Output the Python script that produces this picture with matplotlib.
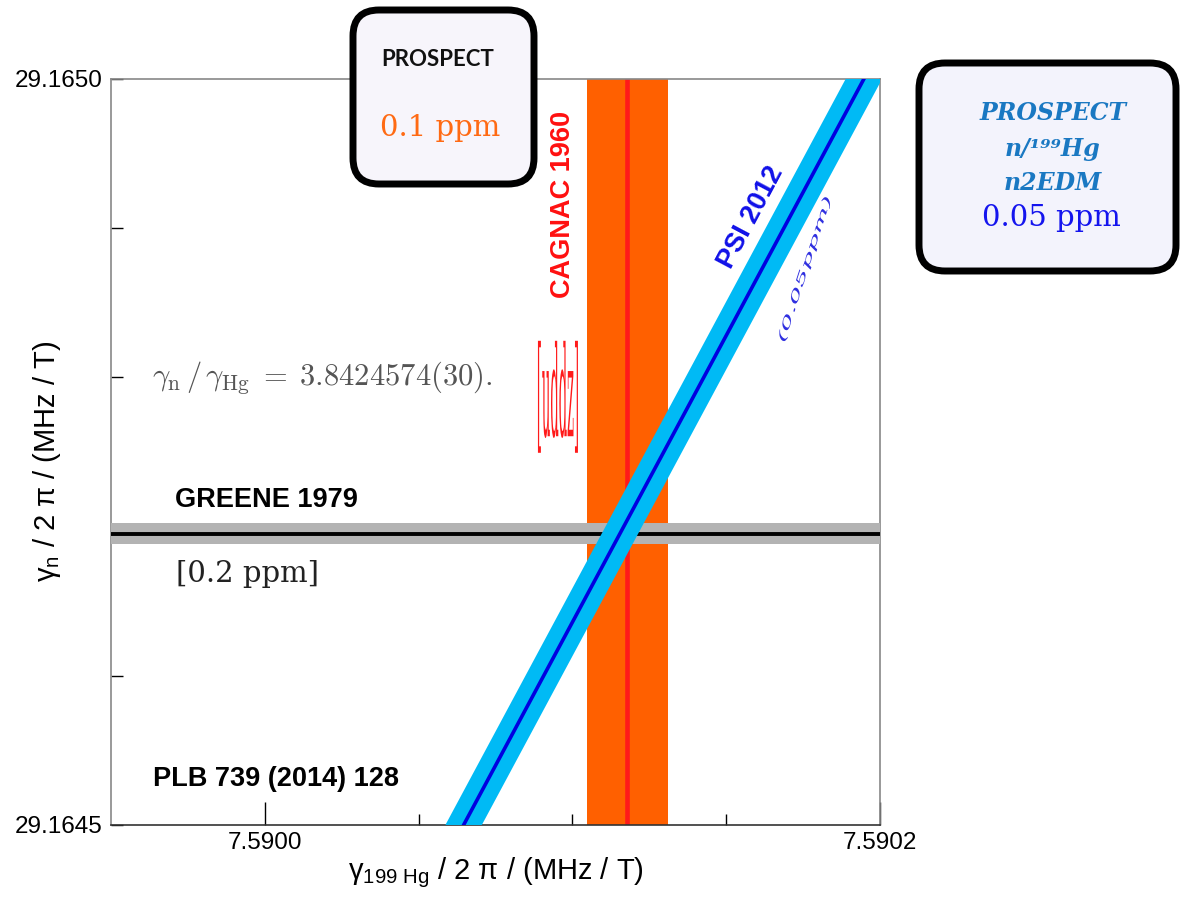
import matplotlib
matplotlib.use('Agg')
import matplotlib.pyplot as plt
import matplotlib.transforms as mtransforms
from matplotlib.patches import FancyBboxPatch, PathPatch
from matplotlib.textpath import TextPath
from matplotlib.font_manager import FontProperties
import numpy as np

plt.rcParams['font.family'] = ['Liberation Sans', 'DejaVu Sans']
plt.rcParams['mathtext.fontset'] = 'custom'
plt.rcParams['mathtext.rm'] = 'Liberation Sans'
plt.rcParams['mathtext.it'] = 'Liberation Sans:italic'

# axis ranges and ticks
x_lim = [7.58995, 7.59020]
y_lim = [29.1645, 29.1650]
x_major = [7.5900, 7.5902]
x_minor = [7.59005, 7.59010, 7.59015]
y_major = [29.1645, 29.1650]
y_minor = [29.1646, 29.1647, 29.1648, 29.1649]
x_ticklabels = ['7.5900', '7.5902']
y_ticklabels = ['29.1645', '29.1650']

# measurements
greene_gn = 29.1646953     # gamma_n / 2pi, GREENE 1979
greene_err = 0.0000070
cagnac_ghg = 7.5901179     # gamma_Hg / 2pi, CAGNAC 1960
cagnac_err = 0.0000132
psi_ratio = 3.8424574      # gamma_n / gamma_Hg, PSI 2012
psi_err = 0.0000030

W, H = 1180, 897
fig = plt.figure(figsize=(W / 100, H / 100), dpi=100)
ax = fig.add_axes([111 / W, 72 / H, 769 / W, 746 / H])

# CAGNAC band (vertical)
ax.axvspan(cagnac_ghg - cagnac_err, cagnac_ghg + cagnac_err,
           color='#ff6000', lw=0, zorder=1)
ax.axvline(cagnac_ghg, color='#ff1a1a', lw=3.3, zorder=2)

# GREENE band (horizontal)
ax.axhspan(greene_gn - greene_err, greene_gn + greene_err,
           color='#b3b3b3', lw=0, zorder=3)
ax.axhline(greene_gn, color='black', lw=2.8, zorder=4)

# PSI band: gamma_n = R * gamma_Hg
xs = np.array([x_lim[0] - 0.0001, x_lim[1] + 0.0001])
ax.fill_between(xs, (psi_ratio - psi_err) * xs, (psi_ratio + psi_err) * xs,
                color='#00baf5', lw=0, zorder=5)
ax.plot(xs, psi_ratio * xs, color='#0000e0', lw=2.6, zorder=6)

ax.set_xlim(x_lim)
ax.set_ylim(y_lim)
ax.set_xticks(x_major)
ax.set_xticks(x_minor, minor=True)
ax.set_xticklabels(x_ticklabels)
ax.set_yticks(y_major)
ax.set_yticks(y_minor, minor=True)
ax.set_yticklabels(y_ticklabels)
ax.tick_params(axis='x', which='major', direction='in', length=16.5, width=1,
               labelsize=17.5, pad=5)
ax.tick_params(axis='x', which='minor', direction='in', length=8, width=1)
ax.tick_params(axis='y', which='both', direction='in', length=8.6, width=1,
               labelsize=17.5, pad=6)
for s in ['left', 'top', 'right']:
    ax.spines[s].set_color('#888888')
    ax.spines[s].set_linewidth(1.2)
ax.spines['bottom'].set_color('#333333')
ax.spines['bottom'].set_linewidth(1.2)

ax.set_xlabel('γ$_{\\mathrm{199\\ Hg}}$ / 2 π / (MHz / T)', fontsize=21, labelpad=1)
ax.set_ylabel('γ$_{\\mathrm{n}}$ / 2 π / (MHz / T)', fontsize=21)
ax.yaxis.set_label_coords(-0.063, 0.487)

# annotations
bold = dict(fontweight='bold', fontsize=19.5, ha='center', va='center')
ax.text(7.5900004, 29.164718, 'GREENE 1979', color='black', zorder=8, **bold)
ax.text(7.5900036, 29.164531, 'PLB 739 (2014) 128', color='black', zorder=8, **bold)
ax.text(7.590097, 29.164916, 'CAGNAC 1960', color='#ff1010', rotation=90,
        zorder=8, **bold)
ax.text(7.590158, 29.164907, 'PSI 2012', color='#1010e8', rotation=62,
        rotation_mode='anchor', zorder=8, **bold)
ax.text(7.5899945, 29.164668, '[0.2 ppm]', family='DejaVu Serif', fontsize=21,
        color='#222222', ha='center', va='center', zorder=8)
ax.text(7.5900186, 29.1648,
        r'$\gamma_{\rm n}\,/\,\gamma_{\rm Hg}\;=\;3.8424574(30).$',
        math_fontfamily='cm', fontsize=22, color='#555555',
        ha='center', va='center', zorder=8)


# squeezed hand-made labels
def squeezed(text, x, y, width, height, angle, color, style='normal'):
    tp = TextPath((0, 0), text, size=20,
                  prop=FontProperties(family='DejaVu Serif', style=style))
    bb = tp.get_extents()
    trans = (mtransforms.Affine2D()
             .translate(-(bb.x0 + bb.x1) / 2, -(bb.y0 + bb.y1) / 2)
             .scale(width / bb.width, height / bb.height)
             .rotate_deg(angle)
             + mtransforms.ScaledTranslation(x, y, ax.transData))
    fig.add_artist(PathPatch(tp, transform=trans, fc=color, ec='none', lw=0,
                             zorder=9))


squeezed('[uddz]', 7.5900953, 29.164787, 40, 112, 0, '#ff1a1a')
squeezed('(0.05ppm)', 7.5901756, 29.1648725, 150, 11, 72, '#3030e0', 'italic')

# rounded boxes (pixel coordinates)
def box(x0, y0, x1, y1, fc):
    p = FancyBboxPatch((x0, H - y1), x1 - x0, y1 - y0,
                       boxstyle='round,pad=0,rounding_size=26',
                       transform=mtransforms.IdentityTransform(),
                       fc=fc, ec='black', lw=5, zorder=10)
    fig.add_artist(p)


box(353, 10, 534, 184, '#f7f5fb')
box(919, 63, 1176, 271, '#f3f3fc')


def ftext(px, py, s, **kw):
    fig.text(px / W, 1 - py / H, s, ha='center', va='center', zorder=11, **kw)


ftext(438, 60, 'PROSPECT', family=['Lato', 'DejaVu Sans'], fontweight='bold',
      fontsize=16, color='#111111')
ftext(440, 128, '0.1 ppm', family='DejaVu Serif', fontsize=21, color='#ff6a13')

blue_it = dict(family='DejaVu Serif', fontweight='bold', style='italic',
               fontsize=17, color='#1a78c2')
ftext(1053, 113, 'PROSPECT', **blue_it)
ftext(1053, 149, 'n/¹⁹⁹Hg', **blue_it)
ftext(1053, 183, 'n2EDM', **blue_it)
ftext(1051, 218, '0.05 ppm', family='DejaVu Serif', fontsize=21, color='#1414ee')

plt.savefig('out.png', dpi=100)
